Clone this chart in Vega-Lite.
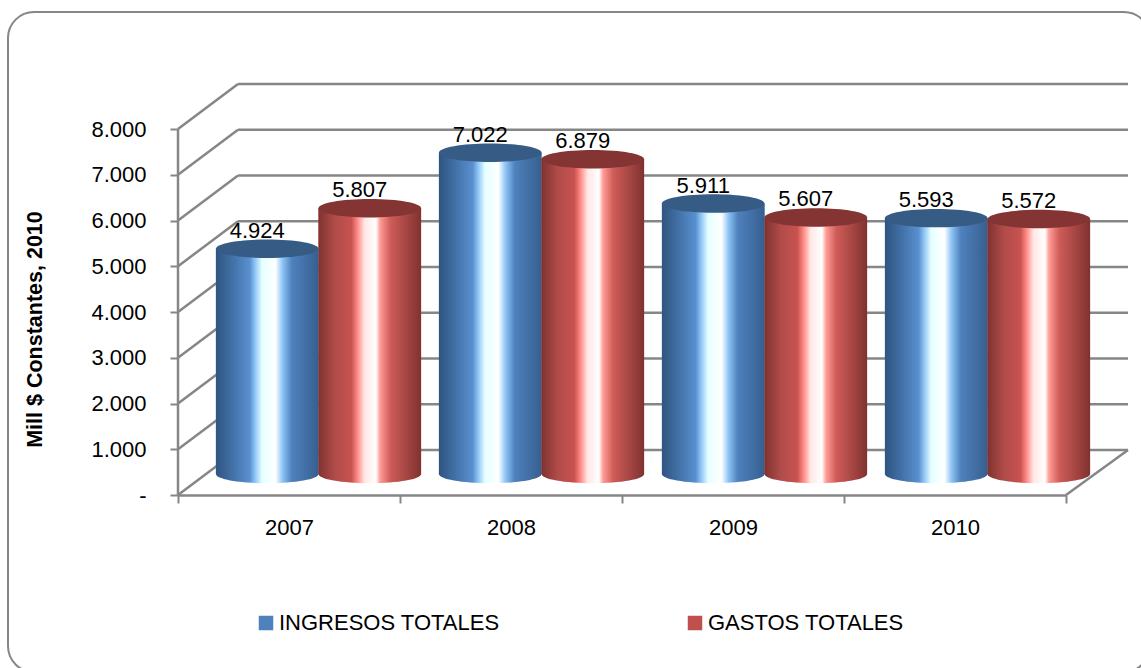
{
"$schema":"https://vega.github.io/schema/vega-lite/v6.json",
"width":950,"height":411,
"autosize":{"type":"none"},
"padding":{"left":178,"top":84,"right":13,"bottom":173},
"background":"white",
"config":{"view":{"stroke":null},"font":"Liberation Sans"},
"datasets":{
"d":[
{"year":"2007","serie":"INGRESOS TOTALES","value":4924,"label":"4.924"},
{"year":"2007","serie":"GASTOS TOTALES","value":5807,"label":"5.807"},
{"year":"2008","serie":"INGRESOS TOTALES","value":7022,"label":"7.022"},
{"year":"2008","serie":"GASTOS TOTALES","value":6879,"label":"6.879"},
{"year":"2009","serie":"INGRESOS TOTALES","value":5911,"label":"5.911"},
{"year":"2009","serie":"GASTOS TOTALES","value":5607,"label":"5.607"},
{"year":"2010","serie":"INGRESOS TOTALES","value":5593,"label":"5.593"},
{"year":"2010","serie":"GASTOS TOTALES","value":5572,"label":"5.572"}],
"g":[{"v":0},{"v":1000},{"v":2000},{"v":3000},{"v":4000},{"v":5000},{"v":6000},{"v":7000},{"v":8000}]
},
"resolve":{"scale":{"x":"independent","xOffset":"independent"},"axis":{"x":"independent"}},
"layer":[
{"data":{"values":[{"f":1}]},
 "mark":{"type":"rect","stroke":"#868686","strokeWidth":2,"fillOpacity":0,"cornerRadius":26,"clip":false},
 "encoding":{"x":{"datum":-170,"type":"quantitative","scale":{"domain":[0,950],"nice":false,"zero":false},"axis":null},"x2":{"datum":972},
 "y":{"datum":10557,"type":"quantitative","scale":{"domain":[0,8984],"nice":false,"zero":false},
  "axis":{"title":"Mill $ Constantes, 2010","values":[0,1000,2000,3000,4000,5000,6000,7000,8000],"grid":false,"domain":false,
   "labelExpr":"datum.value===0?'-\u00a0\u00a0\u00a0\u00a0':replace(format(datum.value,','),',','.')",
   "tickColor":"#868686","tickWidth":2,"tickSize":8,"labelFont":"Liberation Sans","labelFontSize":22,"labelColor":"black","labelPadding":24,
   "titleFont":"Liberation Sans","titleFontSize":21.5,"titleFontWeight":"bold","titleColor":"black","titleX":-132,"titleY":245}},
 "y2":{"datum":-3870}}},
{"data":{"name":"g"},
 "mark":{"type":"rule","color":"#868686","strokeWidth":2.5,"yOffset":-45},
 "encoding":{"x":{"datum":60,"type":"quantitative","scale":{"domain":[0,950],"nice":false,"zero":false},"axis":null},"x2":{"datum":950},
 "y":{"field":"v","type":"quantitative"}}},
{"data":{"name":"g"},
 "mark":{"type":"rule","color":"#868686","strokeWidth":2.5,"y2Offset":-45},
 "encoding":{"x":{"datum":0,"type":"quantitative","scale":{"domain":[0,950],"nice":false,"zero":false},"axis":null},"x2":{"datum":60},
 "y":{"field":"v","type":"quantitative"},"y2":{"field":"v"}}},
{"data":{"values":[{"v0":0,"v1":8000}]},
 "mark":{"type":"rule","color":"#868686","strokeWidth":2.5},
 "encoding":{"x":{"datum":0,"type":"quantitative","scale":{"domain":[0,950],"nice":false,"zero":false},"axis":null},
 "y":{"field":"v0","type":"quantitative"},"y2":{"field":"v1"}}},
{"data":{"values":[{"v":0}]},
 "mark":{"type":"rule","color":"#868686","strokeWidth":2.5,"y2Offset":-45},
 "encoding":{"x":{"datum":888,"type":"quantitative","scale":{"domain":[0,950],"nice":false,"zero":false},"axis":null},"x2":{"datum":950},
 "y":{"field":"v","type":"quantitative"},"y2":{"field":"v"}}},
{"data":{"name":"d"},
 "mark":{"type":"rule","color":"#868686","strokeWidth":2.5},
 "encoding":{
 "x":{"field":"year","type":"nominal","title":null,"scale":{"domain":["2007","2008","2009","2010"],"range":[0,888],"paddingInner":0,"paddingOuter":0},
  "axis":{"tickBand":"extent","labelAngle":0,"domainColor":"#868686","domainWidth":2.5,"tickColor":"#868686","tickWidth":2,"tickSize":8,"labelFont":"Liberation Sans","labelFontSize":22,"labelColor":"black","labelPadding":14,"grid":false}},
 "y":{"datum":0,"type":"quantitative"},"y2":{"datum":0}}},
{"data":{"name":"d"},
 "mark":{"type":"bar","yOffset":-21,"y2Offset":-21},
 "encoding":{
 "x":{"field":"year","type":"nominal","scale":{"domain":["2007","2008","2009","2010"],"range":[29,921],"paddingInner":0.08,"paddingOuter":0.04},"axis":null},
 "xOffset":{"field":"serie","type":"nominal","scale":{"type":"band","domain":["INGRESOS TOTALES","GASTOS TOTALES"],"paddingInner":0,"paddingOuter":0}},
 "y":{"field":"value","type":"quantitative"},
 "color":{"field":"serie","type":"nominal","scale":{"domain":["INGRESOS TOTALES","GASTOS TOTALES"],"range":["#4f81bd","#c0504d"]},
  "legend":{"title":null,"orient":"none","legendX":77,"legendY":528,"direction":"horizontal","columns":2,"columnPadding":184,"symbolType":"square","symbolSize":210,"symbolStrokeWidth":0,"labelFont":"Liberation Sans","labelFontSize":22,"labelColor":"black","labelLimit":300,"labelOffset":2}}}},
{"data":{"name":"d"},"transform":[{"filter":"datum.serie==='INGRESOS TOTALES'"}],
 "mark":{"type":"point","filled":true,"opacity":1,"size":10530,"shape":"M-1,0 A1,0.18 0 1 1 1,0 A1,0.18 0 1 1 -1,0 Z","yOffset":-21,
  "fill":{"gradient":"linear","x1":0,"x2":1,"y1":0,"y2":0,"stops":[{"offset":0,"color":"#2f5480"},{"offset":0.18,"color":"#4474ab"},{"offset":0.33,"color":"#5a90d0"},{"offset":0.38,"color":"#8cc4f5"},{"offset":0.45,"color":"#e6ffff"},{"offset":0.58,"color":"#ffffff"},{"offset":0.65,"color":"#8cc4f5"},{"offset":0.74,"color":"#4f81bd"},{"offset":1,"color":"#365f8f"}]}},
 "encoding":{
 "x":{"field":"year","type":"nominal","scale":{"type":"band","domain":["2007","2008","2009","2010"],"range":[29,921],"paddingInner":0.08,"paddingOuter":0.04},"axis":null},
 "xOffset":{"field":"serie","type":"nominal","scale":{"type":"band","domain":["INGRESOS TOTALES","GASTOS TOTALES"],"paddingInner":0,"paddingOuter":0}},
 "y":{"datum":0,"type":"quantitative"}}},
{"data":{"name":"d"},"transform":[{"filter":"datum.serie==='GASTOS TOTALES'"}],
 "mark":{"type":"point","filled":true,"opacity":1,"size":10530,"shape":"M-1,0 A1,0.18 0 1 1 1,0 A1,0.18 0 1 1 -1,0 Z","yOffset":-21,
  "fill":{"gradient":"linear","x1":0,"x2":1,"y1":0,"y2":0,"stops":[{"offset":0,"color":"#7f3230"},{"offset":0.16,"color":"#b04c4a"},{"offset":0.32,"color":"#c8524f"},{"offset":0.38,"color":"#ff8a85"},{"offset":0.45,"color":"#ffe8e6"},{"offset":0.56,"color":"#ffffff"},{"offset":0.6,"color":"#ff9c96"},{"offset":0.7,"color":"#cf5c58"},{"offset":1,"color":"#7f3230"}]}},
 "encoding":{
 "x":{"field":"year","type":"nominal","scale":{"type":"band","domain":["2007","2008","2009","2010"],"range":[29,921],"paddingInner":0.08,"paddingOuter":0.04},"axis":null},
 "xOffset":{"field":"serie","type":"nominal","scale":{"type":"band","domain":["INGRESOS TOTALES","GASTOS TOTALES"],"paddingInner":0,"paddingOuter":0}},
 "y":{"datum":0,"type":"quantitative"}}},
{"data":{"name":"d"},"transform":[{"filter":"datum.serie==='INGRESOS TOTALES'"}],
 "mark":{"type":"bar","yOffset":-21,"y2Offset":-21,
  "fill":{"gradient":"linear","x1":0,"x2":1,"y1":0,"y2":0,"stops":[{"offset":0,"color":"#2f5480"},{"offset":0.18,"color":"#4474ab"},{"offset":0.33,"color":"#5a90d0"},{"offset":0.38,"color":"#8cc4f5"},{"offset":0.45,"color":"#e6ffff"},{"offset":0.58,"color":"#ffffff"},{"offset":0.65,"color":"#8cc4f5"},{"offset":0.74,"color":"#4f81bd"},{"offset":1,"color":"#365f8f"}]}},
 "encoding":{
 "x":{"field":"year","type":"nominal","scale":{"domain":["2007","2008","2009","2010"],"range":[29,921],"paddingInner":0.08,"paddingOuter":0.04},"axis":null},
 "xOffset":{"field":"serie","type":"nominal","scale":{"type":"band","domain":["INGRESOS TOTALES","GASTOS TOTALES"],"paddingInner":0,"paddingOuter":0}},
 "y":{"field":"value","type":"quantitative"}}},
{"data":{"name":"d"},"transform":[{"filter":"datum.serie==='GASTOS TOTALES'"}],
 "mark":{"type":"bar","yOffset":-21,"y2Offset":-21,
  "fill":{"gradient":"linear","x1":0,"x2":1,"y1":0,"y2":0,"stops":[{"offset":0,"color":"#7f3230"},{"offset":0.16,"color":"#b04c4a"},{"offset":0.32,"color":"#c8524f"},{"offset":0.38,"color":"#ff8a85"},{"offset":0.45,"color":"#ffe8e6"},{"offset":0.56,"color":"#ffffff"},{"offset":0.6,"color":"#ff9c96"},{"offset":0.7,"color":"#cf5c58"},{"offset":1,"color":"#7f3230"}]}},
 "encoding":{
 "x":{"field":"year","type":"nominal","scale":{"domain":["2007","2008","2009","2010"],"range":[29,921],"paddingInner":0.08,"paddingOuter":0.04},"axis":null},
 "xOffset":{"field":"serie","type":"nominal","scale":{"type":"band","domain":["INGRESOS TOTALES","GASTOS TOTALES"],"paddingInner":0,"paddingOuter":0}},
 "y":{"field":"value","type":"quantitative"}}},
{"data":{"name":"d"},
 "mark":{"type":"point","filled":true,"opacity":1,"size":10530,"shape":"M-1,0 A1,0.18 0 1 1 1,0 A1,0.18 0 1 1 -1,0 Z","yOffset":-21},
 "encoding":{
 "x":{"field":"year","type":"nominal","scale":{"type":"band","domain":["2007","2008","2009","2010"],"range":[29,921],"paddingInner":0.08,"paddingOuter":0.04},"axis":null},
 "xOffset":{"field":"serie","type":"nominal","scale":{"type":"band","domain":["INGRESOS TOTALES","GASTOS TOTALES"],"paddingInner":0,"paddingOuter":0}},
 "y":{"field":"value","type":"quantitative"},
 "fill":{"field":"serie","type":"nominal","scale":{"domain":["INGRESOS TOTALES","GASTOS TOTALES"],"range":["#365c86","#843533"]},"legend":null}}},
{"data":{"name":"d"},
 "mark":{"type":"text","yOffset":-39,"font":"Liberation Sans","fontSize":22,"color":"black","baseline":"middle"},
 "encoding":{
 "x":{"field":"year","type":"nominal","scale":{"type":"band","domain":["2007","2008","2009","2010"],"range":[19,911],"paddingInner":0.08,"paddingOuter":0.04},"axis":null},
 "xOffset":{"field":"serie","type":"nominal","scale":{"type":"band","domain":["INGRESOS TOTALES","GASTOS TOTALES"],"paddingInner":0,"paddingOuter":0}},
 "y":{"field":"value","type":"quantitative"},
 "text":{"field":"label"}}}
],
"encoding":{"y":{"type":"quantitative"}}
}
